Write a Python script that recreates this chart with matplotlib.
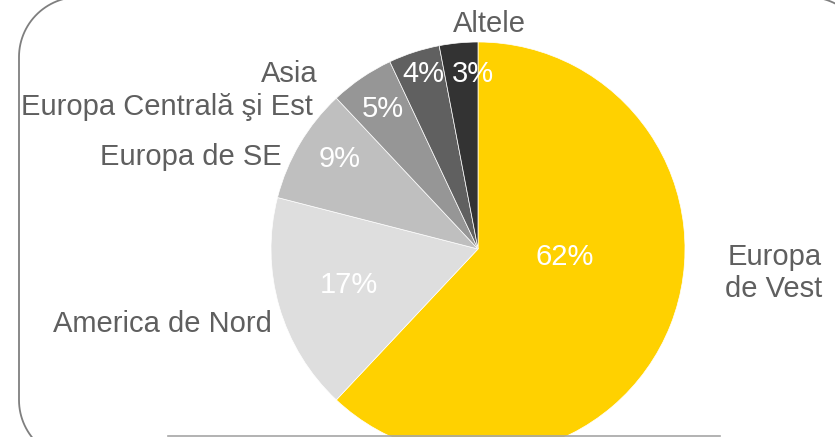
import numpy as np
import matplotlib.pyplot as plt
from matplotlib.patches import PathPatch
from matplotlib.path import Path
from matplotlib.lines import Line2D

# data
regions = ['Europa\nde Vest', 'America de Nord', 'Europa de SE',
           'Europa Centrală şi Est', 'Asia', 'Altele']
shares = [62, 17, 9, 5, 4, 3]
colors = ['#FFD100', '#DEDEDE', '#BFBFBF', '#969696', '#606060', '#333333']

W, H = 835, 437
plt.rcParams['font.family'] = ['Liberation Sans', 'DejaVu Sans']

fig = plt.figure(figsize=(W / 100, H / 100), dpi=100)

# pie centre (478, 249) px from top-left, radius 207 px
cx, cy, r = 478, 249, 207
ax = fig.add_axes([(cx - r) / W, (H - cy - r) / H, 2 * r / W, 2 * r / H])
ax.pie(shares, colors=colors, startangle=90, counterclock=False, radius=1,
       wedgeprops=dict(edgecolor='white', linewidth=0.5))
ax.set_xlim(-1, 1)
ax.set_ylim(-1, 1)
ax.axis('off')

def px(x, y):
    return x / W, 1 - y / H

# category labels: (x, baseline y, alignment) in pixels
label_pos = [(822, 265, 'right'), (272, 332, 'right'), (282, 165, 'right'),
             (313, 115, 'right'), (318, 82, 'right'), (489, 32, 'center')]
pct_pos = [(565, 265), (349, 293), (340, 167), (383, 117), (423, 82), (473, 82)]
fs = 21

for name, (x, y, ha), v, (qx, qy) in zip(regions, label_pos, shares, pct_pos):
    for i, part in enumerate(name.split('\n')):
        fig.text(*px(x, y + 32 * i), part, ha=ha, va='baseline',
                 fontsize=fs, color='#5F5F5F')
    fig.text(*px(qx, qy), f'{v}%', ha='center', va='baseline',
             fontsize=fs, color='white')

# rounded frame, mostly outside the picture (pixel coords, y down)
left, right, top, bottom, rr = 19, 868, -3, 460, 60
def arc(xc, yc, a0, a1):
    t = np.radians(np.linspace(a0, a1, 30))
    return np.column_stack([xc + rr * np.cos(t), yc - rr * np.sin(t)])
pts = np.vstack([
    arc(left + rr, top + rr, 90, 180),
    arc(left + rr, bottom - rr, 180, 270),
    arc(right - rr, bottom - rr, 270, 360),
    arc(right - rr, top + rr, 0, 90),
])
pts = np.vstack([pts, pts[:1]])
pts_fig = np.column_stack([pts[:, 0] / W, 1 - pts[:, 1] / H])
fig.add_artist(PathPatch(Path(pts_fig), fill=False, edgecolor='#7F7F7F',
                         linewidth=1.3, transform=fig.transFigure))

# thin line at the bottom
fig.add_artist(Line2D([168 / W, 720 / W], [1.5 / H, 1.5 / H], color='#A6A6A6',
                      linewidth=1.2, transform=fig.transFigure))

fig.savefig('out.png', dpi=100)
